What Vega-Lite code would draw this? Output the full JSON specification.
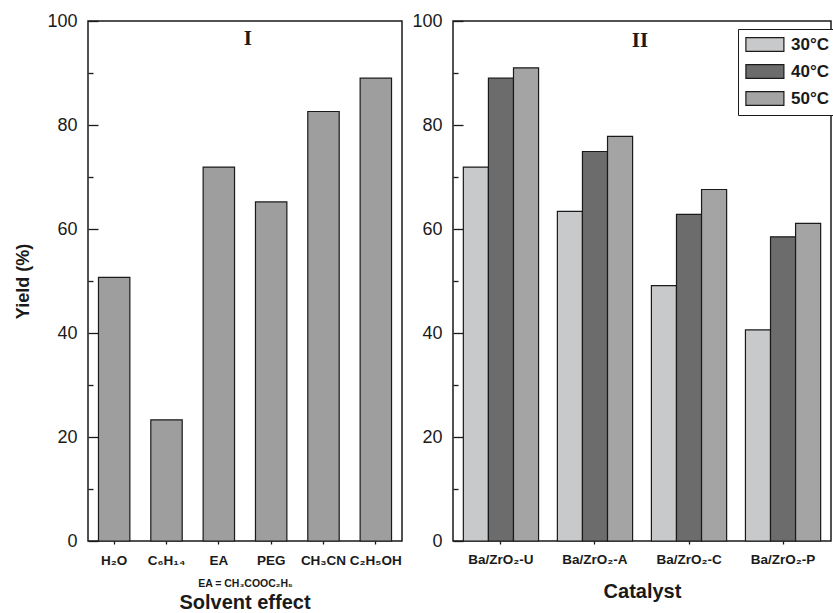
{
  "$schema": "https://vega.github.io/schema/vega-lite/v6.json",
  "background": "white",
  "padding": {"left": 14, "top": 11, "right": 2, "bottom": 0},
  "spacing": 8,
  "config": {
    "font": "Liberation Sans",
    "view": {"stroke": "#1a1a1a", "strokeWidth": 1.5},
    "axis": {"labelColor": "#1a1a1a", "titleColor": "#1a1a1a", "tickColor": "#1a1a1a", "domainColor": "#1a1a1a", "tickWidth": 1.3, "grid": false}
  },
  "hconcat": [
    {
      "width": 314,
      "height": 520,
      "title": {"text": "Solvent effect", "orient": "bottom", "fontSize": 20, "fontWeight": "bold", "color": "#1a1a1a", "offset": 4},
      "data": {"values": [
        {"solvent": "H₂O", "yield": 50.7},
        {"solvent": "C₆H₁₄", "yield": 23.3},
        {"solvent": "EA", "yield": 71.9},
        {"solvent": "PEG", "yield": 65.2},
        {"solvent": "CH₃CN", "yield": 82.6},
        {"solvent": "C₂H₅OH", "yield": 89.0}
      ]},
      "layer": [
        {
          "mark": {"type": "bar", "fill": "#9e9e9e", "stroke": "#1a1a1a", "strokeWidth": 1.2},
          "encoding": {
            "x": {"field": "solvent", "type": "nominal", "sort": null, "title": "EA = CH₃COOC₂H₅",
              "scale": {"paddingInner": 0.4, "paddingOuter": 0.2},
              "axis": {"labelAngle": 0, "labelFontSize": 13.5, "labelFontWeight": "bold", "labelPadding": 9, "tickSize": 3, "titleFontSize": 10.5, "titleFontWeight": "bold", "titlePadding": 12, "domain": false}},
            "y": {"field": "yield", "type": "quantitative", "title": "Yield (%)",
              "scale": {"domain": [0, 100], "nice": false},
              "axis": {"values": [0, 20, 40, 60, 80, 100], "tickSize": -10, "labelPadding": 21, "labelFontSize": 18, "titleFontSize": 18, "titleFontWeight": "bold", "titlePadding": 14, "domain": false}}
          }
        },
        {
          "data": {"values": [{"t": "I"}]},
          "mark": {"type": "text", "font": "Liberation Serif", "fontSize": 21, "fontWeight": "bold", "dx": 29, "baseline": "middle", "color": "#1a1a1a"},
          "encoding": {
            "text": {"field": "t"},
            "x": {"datum": "EA"},
            "y": {"datum": 96.5, "axis": {"values": [10, 30, 50, 70, 90], "tickSize": -5, "labels": false, "domain": false, "title": null, "orient": "left", "offset": 0}}
          }
        }
      ],
      "resolve": {"axis": {"y": "independent"}}
    },
    {
      "width": 378,
      "height": 520,
      "data": {"values": [
        {"catalyst": "Ba/ZrO₂-U", "temp": "30°C", "yield": 71.9},
        {"catalyst": "Ba/ZrO₂-U", "temp": "40°C", "yield": 89.0},
        {"catalyst": "Ba/ZrO₂-U", "temp": "50°C", "yield": 91.0},
        {"catalyst": "Ba/ZrO₂-A", "temp": "30°C", "yield": 63.4},
        {"catalyst": "Ba/ZrO₂-A", "temp": "40°C", "yield": 74.9},
        {"catalyst": "Ba/ZrO₂-A", "temp": "50°C", "yield": 77.8},
        {"catalyst": "Ba/ZrO₂-C", "temp": "30°C", "yield": 49.1},
        {"catalyst": "Ba/ZrO₂-C", "temp": "40°C", "yield": 62.8},
        {"catalyst": "Ba/ZrO₂-C", "temp": "50°C", "yield": 67.6},
        {"catalyst": "Ba/ZrO₂-P", "temp": "30°C", "yield": 40.6},
        {"catalyst": "Ba/ZrO₂-P", "temp": "40°C", "yield": 58.5},
        {"catalyst": "Ba/ZrO₂-P", "temp": "50°C", "yield": 61.1}
      ]},
      "layer": [
        {
          "mark": {"type": "bar", "stroke": "#1a1a1a", "strokeWidth": 1.2, "opacity": 1},
          "encoding": {
            "x": {"field": "catalyst", "type": "nominal", "sort": null, "title": "Catalyst",
              "scale": {"paddingInner": 0.2, "paddingOuter": 0.11},
              "axis": {"labelAngle": 0, "labelFontSize": 13.5, "labelFontWeight": "bold", "labelPadding": 8, "tickSize": 3, "titleFontSize": 20, "titleFontWeight": "bold", "titlePadding": 16, "domain": false}},
            "xOffset": {"field": "temp", "type": "nominal", "sort": null},
            "y": {"field": "yield", "type": "quantitative", "title": null,
              "scale": {"domain": [0, 100], "nice": false},
              "axis": {"values": [0, 20, 40, 60, 80, 100], "tickSize": -10, "labelPadding": 21, "labelFontSize": 18, "domain": false}},
            "fill": {"field": "temp", "type": "nominal",
              "scale": {"domain": ["30°C", "40°C", "50°C"], "range": ["#c8c9cb", "#6c6c6c", "#a4a4a4"]},
              "legend": {"title": null, "orient": "none", "legendX": 650, "legendY": 8, "strokeColor": "#1a1a1a", "fillColor": "white", "padding": 7,
                "symbolType": "M-1,-0.9H4V0.9H-1Z", "symbolSize": 231, "symbolStrokeColor": "#1a1a1a", "symbolStrokeWidth": 1.2, "symbolOpacity": 1,
                "labelFontSize": 17, "labelFontWeight": "bold", "labelColor": "#1a1a1a", "labelOffset": 29, "rowPadding": 8}}
          }
        },
        {
          "data": {"values": [{"t": "II"}]},
          "mark": {"type": "text", "font": "Liberation Serif", "fontSize": 21, "fontWeight": "bold", "dx": 45, "baseline": "middle", "color": "#1a1a1a"},
          "encoding": {
            "text": {"field": "t"},
            "x": {"datum": "Ba/ZrO₂-A"},
            "y": {"datum": 96.2, "axis": {"values": [10, 30, 50, 70, 90], "tickSize": -5, "labels": false, "domain": false, "title": null, "orient": "left", "offset": 0}}
          }
        }
      ],
      "resolve": {"axis": {"y": "independent"}}
    }
  ]
}
